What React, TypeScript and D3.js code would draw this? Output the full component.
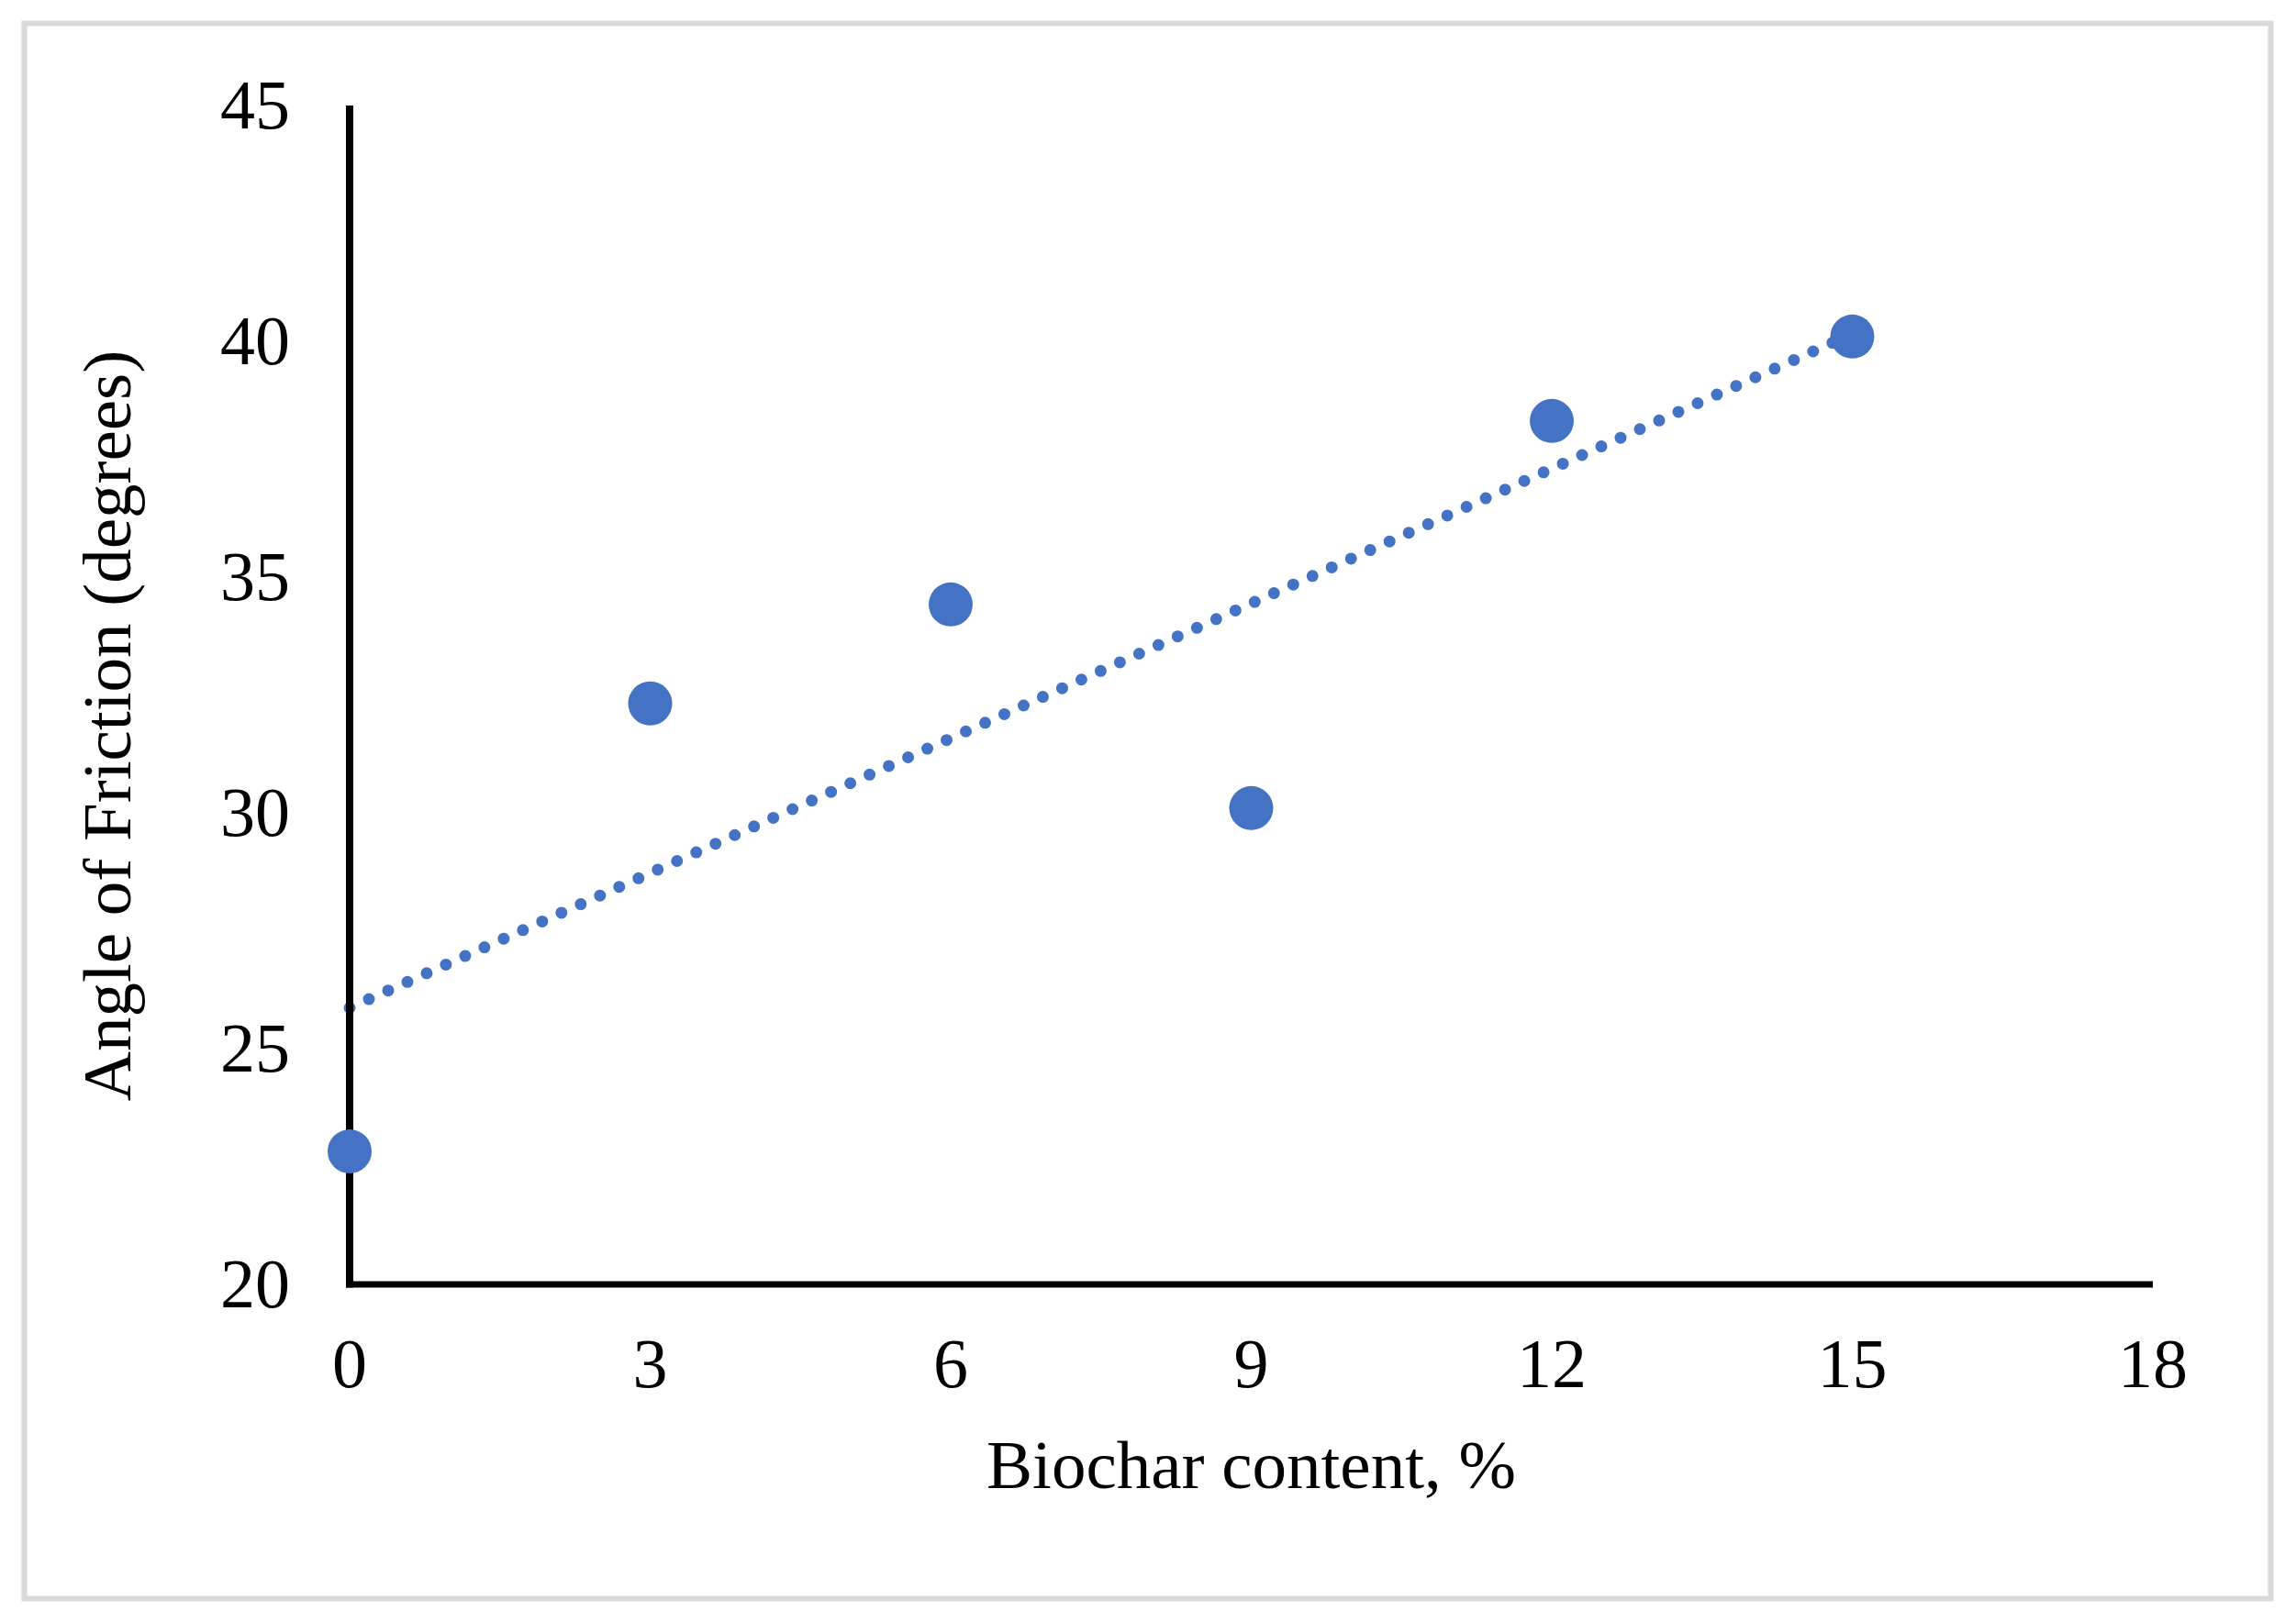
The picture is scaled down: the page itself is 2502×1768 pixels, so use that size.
import React from "react";
import * as d3 from "d3";

const biocharContent = [0, 3, 6, 9, 12, 15];
const frictionAngle = [22.82, 32.32, 34.42, 30.1, 38.31, 40.1];
const xTicks = [0, 3, 6, 9, 12, 15, 18];
const yTicks = [20, 25, 30, 35, 40, 45];
const xLabel = "Biochar content, %";
const yLabel = "Angle of Friction (degrees)";

const W = 2502;
const H = 1768;
const FONT = "'Liberation Serif', 'Times New Roman', serif";
const BLUE = "#4472C4";

export default function App() {
  const x = d3.scaleLinear().domain([0, 18]).range([381, 2346]);
  const y = d3.scaleLinear().domain([20, 45]).range([1400, 115]);

  // least-squares trendline
  const n = biocharContent.length;
  const mx = d3.mean(biocharContent) as number;
  const my = d3.mean(frictionAngle) as number;
  let sxy = 0;
  let sxx = 0;
  for (let i = 0; i < n; i++) {
    sxy += (biocharContent[i] - mx) * (frictionAngle[i] - my);
    sxx += (biocharContent[i] - mx) ** 2;
  }
  const slope = sxy / sxx;
  const intercept = my - slope * mx;
  const x0 = d3.min(biocharContent) as number;
  const x1 = d3.max(biocharContent) as number;
  const trend = d3.line<number>()
    .x((d) => x(d))
    .y((d) => y(intercept + slope * d))([x0, x1]) as string;

  return (
    <svg
      width={W}
      height={H}
      style={{ position: "fixed", left: 0, top: 0, background: "#fff" }}
    >
      <rect x={0} y={0} width={W} height={H} fill="#fff" />
      <rect
        x={26.5}
        y={25.5}
        width={2448}
        height={1717}
        fill="#fff"
        stroke="#d9d9d9"
        strokeWidth={6}
      />
      {/* trendline */}
      <path
        d={trend}
        fill="none"
        stroke={BLUE}
        strokeWidth={13}
        strokeLinecap="round"
        strokeDasharray="0 23"
      />
      {/* axes */}
      <line x1={x(0)} x2={x(0)} y1={y(45)} y2={y(20) + 3.5} stroke="#000" strokeWidth={8} />
      <line x1={x(0) - 4} x2={x(18)} y1={y(20)} y2={y(20)} stroke="#000" strokeWidth={7} />
      {/* points */}
      {biocharContent.map((b, i) => (
        <circle key={i} cx={x(b)} cy={y(frictionAngle[i])} r={24} fill={BLUE} />
      ))}
      {/* y tick labels */}
      {yTicks.map((t) => (
        <text
          key={"y" + t}
          x={316}
          y={y(t) + 25}
          textAnchor="end"
          fontFamily={FONT}
          fontSize={76}
          fill="#000"
        >
          {t}
        </text>
      ))}
      {/* x tick labels */}
      {xTicks.map((t) => (
        <text
          key={"x" + t}
          x={x(t)}
          y={1512}
          textAnchor="middle"
          fontFamily={FONT}
          fontSize={76}
          fill="#000"
        >
          {t}
        </text>
      ))}
      <text
        x={x(9)}
        y={1622}
        textAnchor="middle"
        fontFamily={FONT}
        fontSize={75}
        fill="#000"
      >
        {xLabel}
      </text>
      <text
        transform={`translate(142, 791) rotate(-90)`}
        textAnchor="middle"
        fontFamily={FONT}
        fontSize={75}
        fill="#000"
      >
        {yLabel}
      </text>
    </svg>
  );
}
